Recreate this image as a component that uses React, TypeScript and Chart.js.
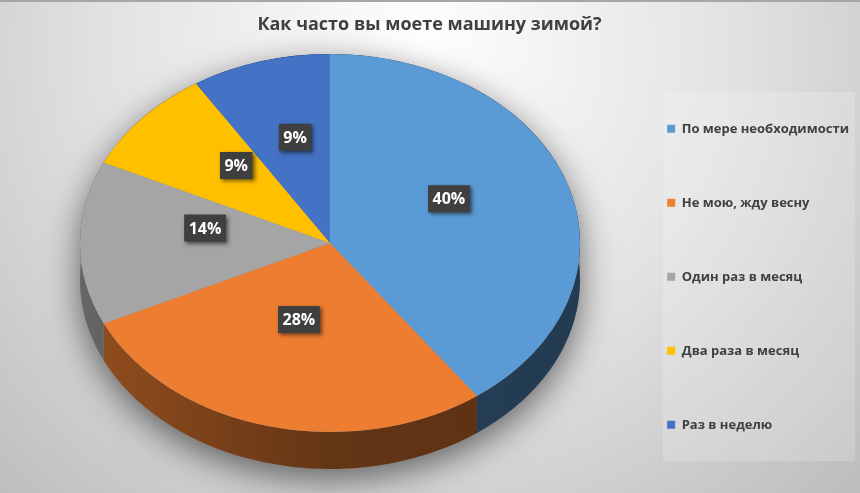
import { useEffect, useRef } from 'react';
import { Chart, registerables } from 'chart.js';

Chart.register(...registerables);

const chartTitle = 'Как часто вы моете машину зимой?';
const categories = [
  'По мере необходимости',
  'Не мою, жду весну',
  'Один раз в месяц',
  'Два раза в месяц',
  'Раз в неделю',
];
const shares = [40, 28, 14, 9, 9];
const sliceColors = ['#5B9BD5', '#ED7D31', '#A5A5A5', '#FFC000', '#4472C4'];

const FONT = '"Open Sans", "DejaVu Sans", sans-serif';

// where the tilted pie sits on the canvas (screen px)
const PIE = { cx: 330, cy: 243, rx: 250, ry: 189, depth: 37 };

function shade(hex: string, k: number) {
  const n = parseInt(hex.slice(1), 16);
  const r = Math.round(((n >> 16) & 255) * k);
  const g = Math.round(((n >> 8) & 255) * k);
  const b = Math.round((n & 255) * k);
  return `rgb(${r}, ${g}, ${b})`;
}

let tilted = false;

const pie3d = {
  id: 'pie3d',
  beforeDraw(chart: any) {
    const { ctx, width, height } = chart;
    ctx.save();
    const bg = ctx.createRadialGradient(420, 50, 0, 420, 50, 700);
    bg.addColorStop(0, '#ffffff');
    bg.addColorStop(0.45, '#e2e2e2');
    bg.addColorStop(1, '#b3b3b3');
    ctx.fillStyle = bg;
    ctx.fillRect(0, 0, width, height);
    ctx.fillStyle = '#a6a6a6';
    ctx.fillRect(0, 0, width, 2);
    // legend panel
    ctx.fillStyle = 'rgba(255, 255, 255, 0.18)';
    ctx.fillRect(663, 92, 192, 369);
    ctx.restore();
  },
  beforeDatasetsDraw(chart: any) {
    const arcs = chart.getDatasetMeta(0).data;
    if (!arcs.length) return;
    const { ctx } = chart;
    const { cx, cy, rx, ry, depth } = PIE;
    ctx.save();
    tilted = true;

    // soft shadow round the whole disc
    ctx.save();
    ctx.shadowColor = 'rgba(0, 0, 0, 0.55)';
    ctx.shadowBlur = 34;
    ctx.shadowOffsetY = 10;
    ctx.fillStyle = '#8c8c8c';
    ctx.beginPath();
    ctx.ellipse(cx, cy, rx, ry, 0, Math.PI, 0);
    ctx.lineTo(cx + rx, cy + depth);
    ctx.ellipse(cx, cy + depth, rx, ry, 0, 0, Math.PI);
    ctx.closePath();
    ctx.fill();
    ctx.restore();

    // side walls of each slice
    arcs.forEach((arc: any, i: number) => {
      const { startAngle, endAngle } = arc.getProps(['startAngle', 'endAngle'], true);
      const base = sliceColors[i];
      const g = ctx.createLinearGradient(cx - rx, 0, cx + rx, 0);
      g.addColorStop(0, shade(base, 0.62));
      g.addColorStop(0.5, shade(base, 0.42));
      g.addColorStop(1, shade(base, 0.38));
      ctx.fillStyle = g;
      ctx.beginPath();
      ctx.ellipse(cx, cy, rx, ry, 0, startAngle, endAngle);
      ctx.ellipse(cx, cy + depth, rx, ry, 0, endAngle, startAngle, true);
      ctx.closePath();
      ctx.fill();
    });

    // squash the library's round pie onto the tilted top face
    const { x, y, outerRadius } = arcs[0].getProps(['x', 'y', 'outerRadius'], true);
    ctx.translate(cx, cy);
    ctx.scale(rx / outerRadius, ry / outerRadius);
    ctx.translate(-x, -y);
  },
  afterDatasetsDraw(chart: any) {
    if (!tilted) return;
    tilted = false;
    const { ctx } = chart;
    ctx.restore();

    const { cx, cy, rx, ry } = PIE;
    const arcs = chart.getDatasetMeta(0).data;
    const values = chart.data.datasets[0].data;
    ctx.save();
    ctx.font = `bold 16px ${FONT}`;
    ctx.textAlign = 'center';
    ctx.textBaseline = 'middle';
    arcs.forEach((arc: any, i: number) => {
      const { startAngle, endAngle } = arc.getProps(['startAngle', 'endAngle'], true);
      const mid = (startAngle + endAngle) / 2;
      const lx = cx + Math.cos(mid) * rx * 0.5;
      const ly = cy + Math.sin(mid) * ry * 0.5 - 15;
      const text = `${values[i]}%`;
      const w = ctx.measureText(text).width + 9;
      const h = 27;
      ctx.shadowColor = 'rgba(0, 0, 0, 0.55)';
      ctx.shadowBlur = 4;
      ctx.shadowOffsetX = 2;
      ctx.shadowOffsetY = 2;
      ctx.fillStyle = '#3f3f3f';
      ctx.fillRect(lx - w / 2, ly - h / 2, w, h);
      ctx.shadowColor = 'transparent';
      ctx.fillStyle = '#ffffff';
      ctx.fillText(text, lx, ly + 1);
    });
    ctx.restore();
  },
};

export default function App() {
  const canvasRef = useRef<HTMLCanvasElement>(null);
  const chartRef = useRef<Chart | null>(null);

  useEffect(() => {
    if (!canvasRef.current) return;
    if (chartRef.current) chartRef.current.destroy();

    chartRef.current = new Chart(canvasRef.current, {
      type: 'pie',
      data: {
        labels: categories,
        datasets: [
          {
            data: shares,
            backgroundColor: sliceColors,
            borderWidth: 0,
            clip: false,
          } as any,
        ],
      },
      options: {
        responsive: true,
        maintainAspectRatio: false,
        animation: false,
        layout: { padding: { right: 1 } },
        plugins: {
          title: {
            display: true,
            text: chartTitle,
            color: '#404040',
            font: { family: FONT, size: 18, weight: 'bold' },
            padding: { top: 14, bottom: 25 },
          },
          legend: {
            position: 'right',
            fullSize: false,
            labels: {
              boxWidth: 8,
              boxHeight: 8,
              padding: 61,
              color: '#404040',
              font: { family: FONT, size: 13, weight: 'bold' },
            },
          },
          tooltip: { enabled: false },
        },
      },
      plugins: [pie3d],
    });

    return () => {
      if (chartRef.current) {
        chartRef.current.destroy();
        chartRef.current = null;
      }
    };
  }, []);

  return (
    <>
      <style>{'body { margin: 0; }'}</style>
      <div style={{ width: 860, height: 493, position: 'relative' }}>
        <canvas ref={canvasRef}></canvas>
      </div>
    </>
  );
}
